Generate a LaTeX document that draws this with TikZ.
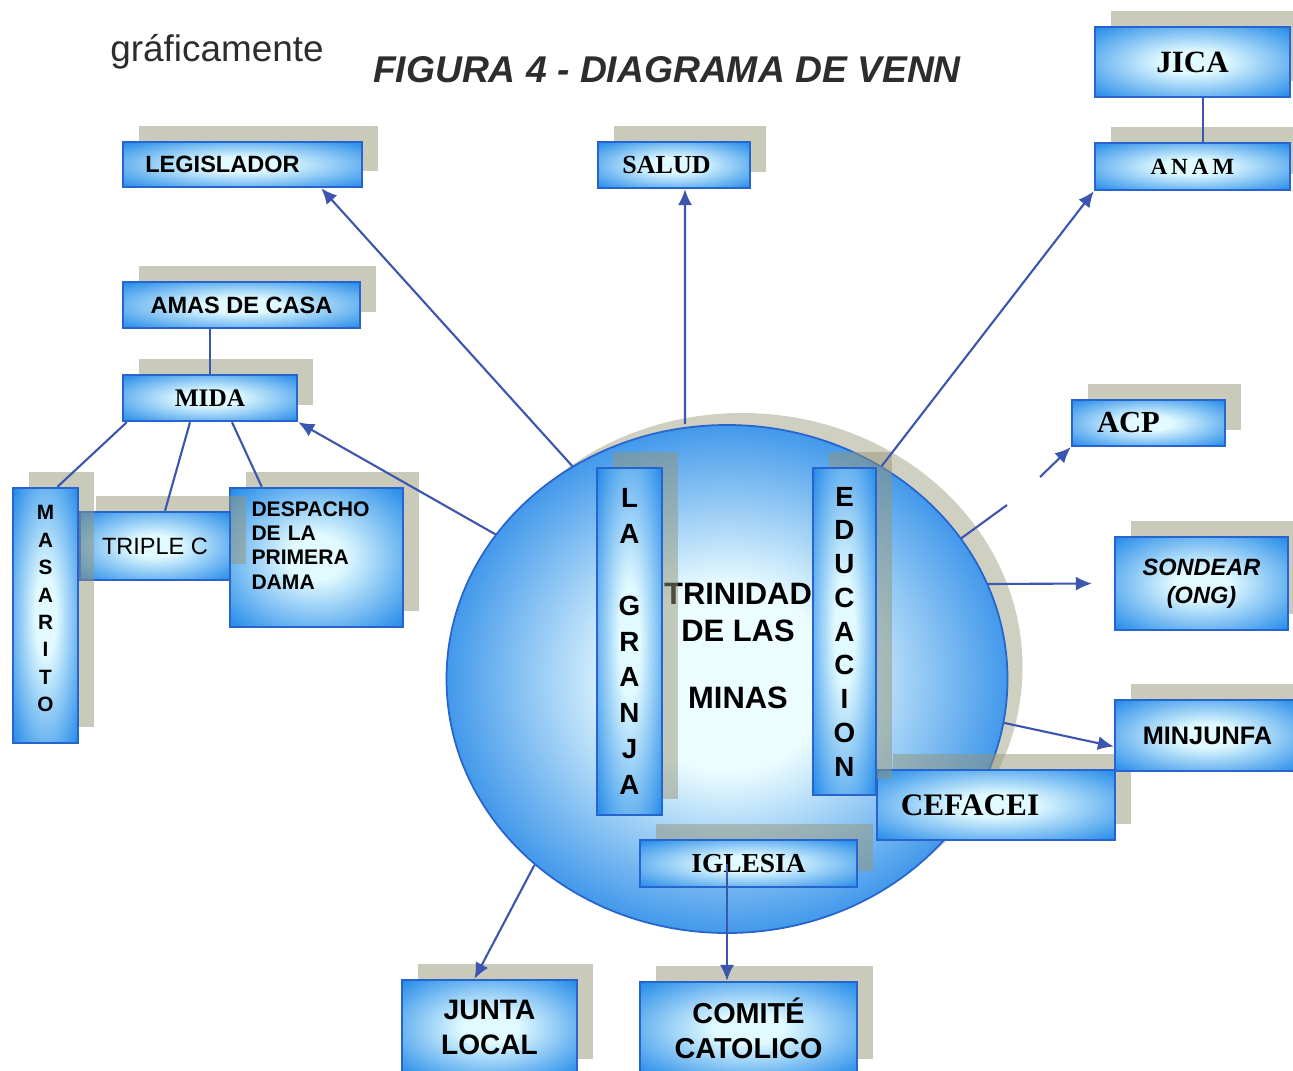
\documentclass[tikz,border=0pt]{standalone}
\usepackage{fontspec}
\setmainfont{Liberation Sans}
\newfontfamily\tnr{Liberation Serif}
\usetikzlibrary{arrows.meta,shapes.geometric,shadows}
\definecolor{boxline}{RGB}{40,100,205}
\definecolor{glowin}{RGB}{225,250,255}
\definecolor{glowout}{RGB}{30,135,232}
\definecolor{ballin}{RGB}{236,253,255}
\definecolor{ballout}{RGB}{45,140,232}
\definecolor{linkblue}{RGB}{60,85,175}
\definecolor{shade}{RGB}{150,150,120}
\definecolor{graytext}{RGB}{45,45,45}
\pgfdeclareradialshading{boxglow}{\pgfpoint{0bp}{0bp}}{color(0bp)=(glowin); color(8bp)=(glowin); color(36bp)=(glowout); color(75bp)=(glowout)}
\pgfdeclareradialshading{ballglow}{\pgfpoint{0bp}{0bp}}{color(0bp)=(ballin); color(9bp)=(ballin); color(27bp)=(ballout); color(75bp)=(ballout)}
\newcommand{\fsz}[2]{\fontsize{#1}{#2}\selectfont}

\begin{document}
\begin{tikzpicture}[
        box/.style={draw=boxline, line width=0.7pt, shading=boxglow, inner sep=0pt, text=black,
            general shadow={fill=shade, opacity=0.5, shadow xshift=0.16cm, shadow yshift=0.16cm}},
        link/.style={draw=linkblue, line width=0.6pt, -{Latex[length=4.5pt, width=4pt]}},
        plain/.style={draw=linkblue, line width=0.6pt}
    ]
        \useasboundingbox (0, 0) rectangle (12.93, -10.70);
        \clip (0, 0) rectangle (12.93, -10.70);

        \draw (2.17, -0.52) node[font=\fsz{10.5}{12}, text=graytext] (graf) {gráficamente};
        \draw (6.67, -0.70) node[font=\bfseries\itshape\fsz{10.6}{12}, text=graytext] (title) {FIGURA 4 - DIAGRAMA DE VENN};

        \draw (7.27, -6.79) node[ellipse, minimum width=5.61cm, minimum height=5.08cm, inner sep=0pt, draw=boxline, line width=0.5pt, shading=ballglow,
            general shadow={fill=shade, opacity=0.45, shadow xshift=0.15cm, shadow yshift=0.12cm}] (C) {};
        \draw (7.38, -6.46) node[align=center, font=\bfseries\fsz{8.8}{10.5}] (tdm) {TRINIDAD\\DE LAS\\[8.8pt]MINAS};

        \draw (2.425, -1.645) node[box, minimum width=2.39cm, minimum height=0.45cm, font=\bfseries\fsz{6.7}{8}] (leg) {LEGISLADOR\kern0.4cm};
        \draw (6.74, -1.65) node[box, minimum width=1.52cm, minimum height=0.46cm, font=\tnr\bfseries\fsz{7.4}{9}] (sal) {SALUD\kern0.15cm};
        \draw (11.925, -0.62) node[box, minimum width=1.95cm, minimum height=0.70cm, font=\tnr\bfseries\fsz{8.8}{10}] (jica) {JICA};
        \draw (11.925, -1.665) node[box, minimum width=1.95cm, minimum height=0.47cm, font=\tnr\bfseries\fsz{6.6}{8}] (anam) {A\,N\,A\,M};
        \draw (2.415, -3.05) node[box, minimum width=2.37cm, minimum height=0.46cm, font=\bfseries\fsz{6.7}{8}] (amas) {AMAS DE CASA};
        \draw (2.10, -3.98) node[box, minimum width=1.74cm, minimum height=0.46cm, font=\tnr\bfseries\fsz{7.2}{9}] (mida) {MIDA};
        \draw (3.165, -5.575) node[box, minimum width=1.73cm, minimum height=1.39cm, align=left, text width=1.3cm, font=\bfseries\fsz{6.0}{6.9}] (des) {DESPACHO\\DE LA\\PRIMERA\\DAMA\\\mbox{}};
        \draw (1.55, -5.46) node[box, minimum width=1.50cm, minimum height=0.68cm, font=\fsz{6.7}{8}] (tri) {TRIPLE C};
        \draw (0.455, -6.155) node[box, minimum width=0.65cm, minimum height=2.55cm, align=center, font=\bfseries\fsz{5.9}{7.8}] (mas) {M\\A\\S\\A\\R\\I\\T\\O\\[-3.9pt]\mbox{}};
        \draw (6.295, -6.415) node[box, minimum width=0.65cm, minimum height=3.47cm, align=center, font=\bfseries\fsz{7.9}{10.2}] (gra) {L\\A\\[10.2pt]G\\R\\A\\N\\J\\A};
        \draw (9.96, -8.05) node[box, minimum width=2.38cm, minimum height=0.70cm, font=\tnr\bfseries\fsz{8.9}{10}] (cef) {CEFACEI\kern0.52cm};
        \draw (8.445, -6.315) node[box, minimum width=0.63cm, minimum height=3.27cm, align=center, font=\bfseries\fsz{7.9}{9.6}] (edu) {E\\D\\U\\C\\A\\C\\I\\O\\N};
        \draw (11.485, -4.23) node[box, minimum width=1.53cm, minimum height=0.46cm, font=\tnr\bfseries\fsz{8.7}{10}] (acp) {ACP\kern0.4cm};
        \draw (12.015, -5.835) node[box, minimum width=1.73cm, minimum height=0.93cm, align=center, font=\bfseries\itshape\fsz{6.7}{8}] (son) {SONDEAR\\(ONG)};
        \draw (12.075, -7.355) node[box, minimum width=1.85cm, minimum height=0.71cm, font=\bfseries\fsz{7.2}{9}] (min) {MINJUNFA};
        \draw (7.485, -8.635) node[box, minimum width=2.17cm, minimum height=0.47cm, font=\tnr\bfseries\fsz{7.8}{9}] (igl) {IGLESIA};
        \draw (4.895, -10.275) node[box, minimum width=1.75cm, minimum height=0.95cm, align=center, font=\bfseries\fsz{8}{10}] (jun) {JUNTA\\LOCAL};
        \draw (7.485, -10.285) node[box, minimum width=2.17cm, minimum height=0.93cm, align=center, font=\bfseries\fsz{8.2}{10}] (com) {COMITÉ\\CATOLICO};

        \coordinate (acpa) at (10.07, -5.05);
        \coordinate (acpb) at (10.40, -4.77);

        \draw[link] (C.126) -- ([xshift=-4.2mm]leg.south east);
        \draw[link] ([xshift=-4.2mm]C.north) -- ([xshift=1.1mm]sal.south);
        \draw[link] (C.54) -- (anam.south west);
        \draw[plain] ([xshift=1.05mm]jica.south) -- ([xshift=1.05mm]anam.north);
        \draw[plain] (mida.north) -- (mida.north |- amas.south);
        \draw[plain] ([xshift=0.5mm]mida.south west) -- ([xshift=1.2mm]mas.north);
        \draw[plain] ([xshift=-2mm]mida.south) -- ([xshift=1mm]tri.north);
        \draw[plain] ([xshift=2.2mm]mida.south) -- ([xshift=3.3mm]des.north west);
        \draw[link] (C.148) -- (mida.south east);
        \draw[plain] (C.31) -- (acpa);
        \draw[link] (acpb) -- (acp.south west);
        \draw[link] (C.20) -- ([xshift=-2.2mm]son.west);
        \draw[link] (C.-9) -- ([yshift=-1.1mm]min.west);
        \draw[link] (C.224) -- ([xshift=-1.5mm]jun.north);
        \draw[link] ([xshift=-2.15mm]igl.center) -- ([xshift=-2.15mm]com.north);

\end{tikzpicture}
\end{document}
